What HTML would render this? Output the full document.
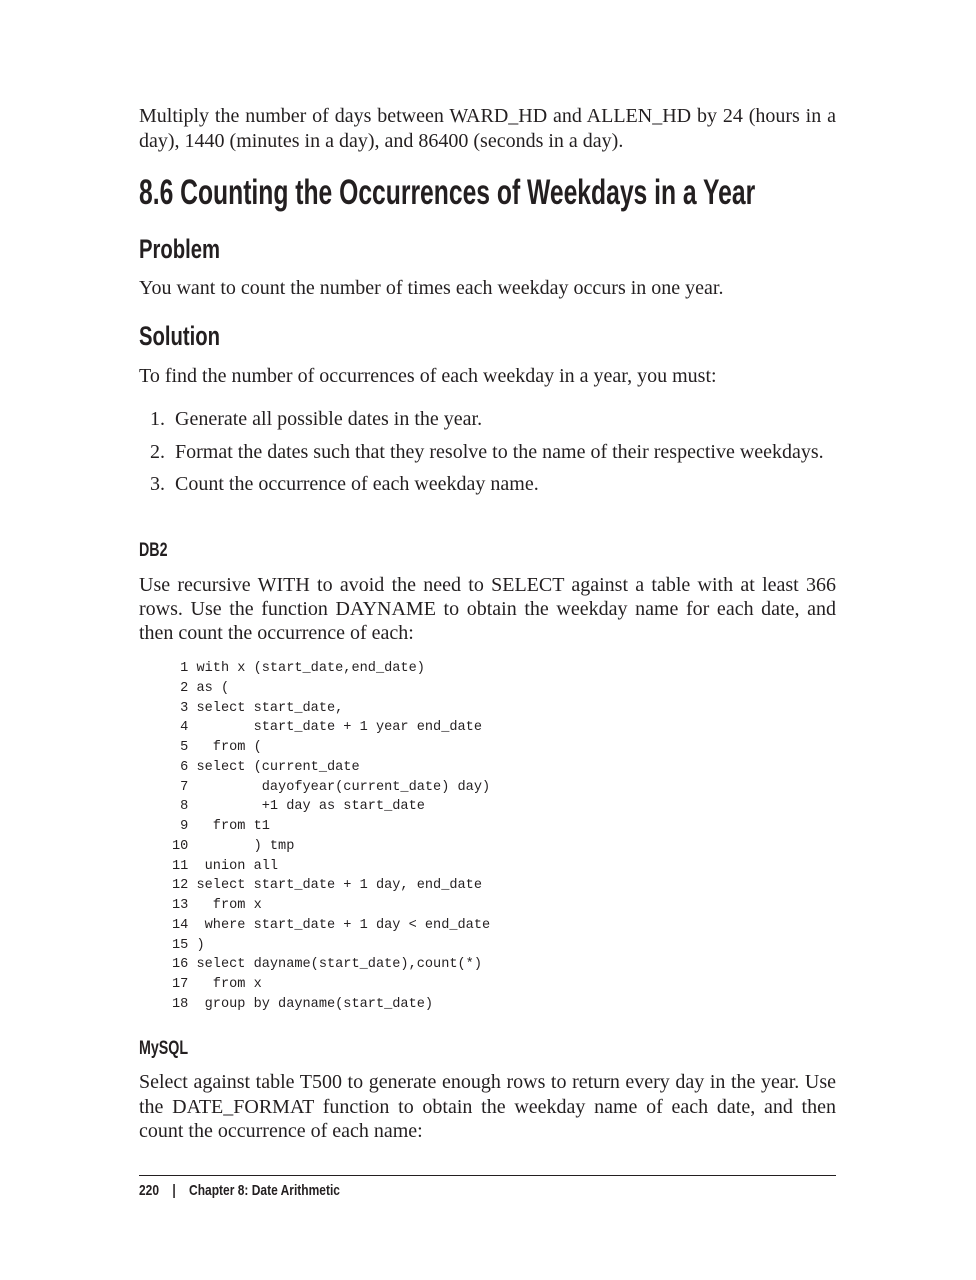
<!DOCTYPE html>
<html><head><meta charset="utf-8"><style>
body{margin:0;background:#fff;}
#p{position:relative;width:976px;height:1280px;overflow:hidden;color:#231f20;}
.t{position:absolute;left:139px;width:697px;font-family:"Liberation Serif",serif;font-size:20px;line-height:24px;text-align:justify;text-align-last:justify;white-space:nowrap;}
.l{text-align-last:left;}
.h{position:absolute;left:139px;font-family:"Liberation Sans",sans-serif;font-weight:bold;transform-origin:left center;white-space:nowrap;}
pre{position:absolute;left:172px;top:659px;margin:0;font-family:"Liberation Mono",monospace;font-size:13.6px;line-height:19.76px;color:#231f20;}
</style></head><body><div id="p">
<div class="t" style="top:104px">Multiply the number of days between WARD_HD and ALLEN_HD by 24 (hours in a</div>
<div class="t l" style="top:129px">day), 1440 (minutes in a day), and 86400 (seconds in a day).</div>
<div class="h" style="top:173px;font-size:35px;line-height:40px;transform:scaleX(0.705)">8.6 Counting the Occurrences of Weekdays in a Year</div>
<div class="h" style="top:234px;font-size:27px;line-height:30px;transform:scaleX(0.75)">Problem</div>
<div class="t l" style="top:276px">You want to count the number of times each weekday occurs in one year.</div>
<div class="h" style="top:321px;font-size:27px;line-height:30px;transform:scaleX(0.75)">Solution</div>
<div class="t l" style="top:364px">To find the number of occurrences of each weekday in a year, you must:</div>
<div class="t l" style="top:407px;left:150px">1.&nbsp; Generate all possible dates in the year.</div>
<div class="t l" style="top:440px;left:150px">2.&nbsp; Format the dates such that they resolve to the name of their respective weekdays.</div>
<div class="t l" style="top:472px;left:150px">3.&nbsp; Count the occurrence of each weekday name.</div>
<div class="h" style="top:540px;font-size:19px;line-height:22px;transform:scaleX(0.75)">DB2</div>
<div class="t" style="top:573px">Use recursive WITH to avoid the need to SELECT against a table with at least 366</div>
<div class="t" style="top:597px">rows. Use the function DAYNAME to obtain the weekday name for each date, and</div>
<div class="t l" style="top:621px">then count the occurrence of each:</div>
<pre> 1 with x (start_date,end_date)
 2 as (
 3 select start_date,
 4        start_date + 1 year end_date
 5   from (
 6 select (current_date
 7         dayofyear(current_date) day)
 8         +1 day as start_date
 9   from t1
10        ) tmp
11  union all
12 select start_date + 1 day, end_date
13   from x
14  where start_date + 1 day &lt; end_date
15 )
16 select dayname(start_date),count(*)
17   from x
18  group by dayname(start_date)</pre>
<div class="h" style="top:1038px;font-size:19px;line-height:22px;transform:scaleX(0.75)">MySQL</div>
<div class="t" style="top:1070px">Select against table T500 to generate enough rows to return every day in the year. Use</div>
<div class="t" style="top:1095px">the DATE_FORMAT function to obtain the weekday name of each date, and then</div>
<div class="t l" style="top:1119px">count the occurrence of each name:</div>
<div style="position:absolute;left:139px;top:1175px;width:697px;height:1px;background:#231f20"></div>
<div class="h" style="top:1182px;font-size:15px;line-height:18px;transform:scaleX(0.8)">220&nbsp;&nbsp;&nbsp;&nbsp;|&nbsp;&nbsp;&nbsp;&nbsp;Chapter 8: Date Arithmetic</div>
</div></body></html>
